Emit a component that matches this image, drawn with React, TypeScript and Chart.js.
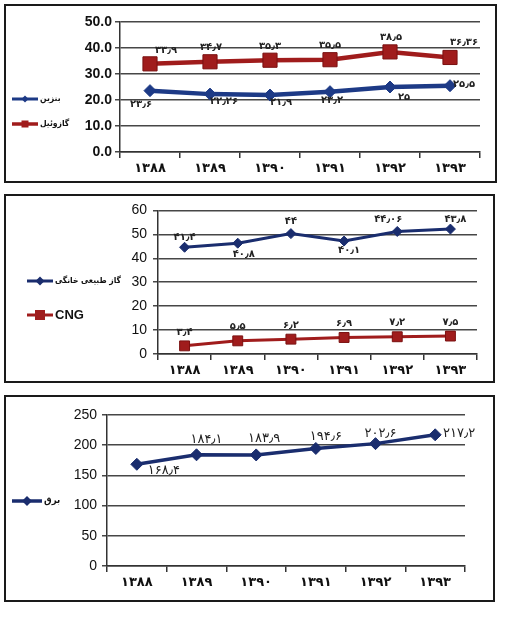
import React, { useEffect, useRef } from "react";
import { Chart, registerables } from "chart.js";

Chart.register(...registerables);

// ---------- data ----------
const years = ["۱۳۸۸", "۱۳۸۹", "۱۳۹۰", "۱۳۹۱", "۱۳۹۲", "۱۳۹۳"];

const gasolineName = "بنزین";
const gasoline = [23.6, 22.26, 21.9, 23.2, 25, 25.5];
const gasoilName = "گازوئیل";
const gasoil = [33.9, 34.7, 35.3, 35.5, 38.5, 36.36];

const homeGasName = "گاز طبیعی خانگی";
const homeGas = [44.6, 46.3, 50.3, 47.2, 51.2, 52.2];
const homeGasLabels = [41.4, 40.8, 44, 40.1, 44.06, 43.8];
const cngName = "CNG";
const cng = [3.4, 5.5, 6.2, 6.9, 7.2, 7.5];

const powerName = "برق";
const power = [168.4, 184.1, 183.9, 194.6, 202.6, 217.2];

const yTicks1 = [0, 10, 20, 30, 40, 50];
const yTicks2 = [0, 10, 20, 30, 40, 50, 60];
const yTicks3 = [0, 50, 100, 150, 200, 250];

// ---------- helpers ----------
const FA_DIGITS = "۰۱۲۳۴۵۶۷۸۹";
const toFa = (n: number) =>
  String(n).replace(/\d/g, (d) => FA_DIGITS[+d]).replace(".", "٫");

const LATIN = "'Liberation Sans', Arial, 'DejaVu Sans', sans-serif";
const FA = "'DejaVu Sans', sans-serif";
const FA_C = "'DejaVu Sans Condensed', 'DejaVu Sans', sans-serif";

const BLUE = "#1d3a86";
const BLUE_DARK = "#1a2d6e";
const RED = "#a01c1c";
const GRID = "#474747";

const pointLabelPlugin = {
  id: "pointLabels",
  afterDatasetsDraw(chart: any) {
    const ctx = chart.ctx;
    chart.data.datasets.forEach((ds: any, di: number) => {
      const meta = chart.getDatasetMeta(di);
      if (!ds.pointLabels) return;
      ctx.save();
      ctx.font = ds.labelFont;
      ctx.fillStyle = "#222";
      ctx.textAlign = "center";
      ctx.textBaseline = "middle";
      meta.data.forEach((pt: any, i: number) => {
        const off = ds.labelOffsets[i];
        ctx.fillText(ds.pointLabels[i], pt.x + off[0], pt.y + off[1]);
      });
      ctx.restore();
    });
  },
};

const sideLegendPlugin = {
  id: "sideLegend",
  afterDraw(chart: any, _args: any, opts: any) {
    if (!opts || !opts.items) return;
    const ctx = chart.ctx;
    opts.items.forEach((it: any) => {
      const ds = chart.data.datasets[it.datasetIndex];
      ctx.save();
      ctx.strokeStyle = ds.borderColor;
      ctx.lineWidth = it.lineWidth;
      ctx.beginPath();
      ctx.moveTo(it.x, it.y);
      ctx.lineTo(it.x + it.len, it.y);
      ctx.stroke();
      const cx = it.x + it.len / 2;
      ctx.fillStyle = ds.pointBackgroundColor;
      ctx.beginPath();
      if (ds.pointStyle === "rect") {
        const s = it.marker;
        ctx.rect(cx - s, it.y - s, 2 * s, 2 * s);
      } else {
        const r = it.marker;
        ctx.moveTo(cx - r, it.y);
        ctx.lineTo(cx, it.y - r);
        ctx.lineTo(cx + r, it.y);
        ctx.lineTo(cx, it.y + r);
        ctx.closePath();
      }
      ctx.fill();
      ctx.font = it.font;
      ctx.fillStyle = "#111";
      ctx.textAlign = "left";
      ctx.textBaseline = "middle";
      ctx.fillText(ds.label, it.x + it.len + 2, it.y);
      ctx.restore();
    });
  },
};

function makeOptions(p: {
  ticks: number[];
  yWidth: number;
  xHeight: number;
  padTop: number;
  padRight: number;
  yFont: any;
  yPad: number;
  fmt: (v: number) => string;
  legend: any;
}) {
  return {
    responsive: false,
    maintainAspectRatio: false,
    animation: false,
    devicePixelRatio: 1,
    layout: { padding: { left: 0, top: p.padTop, right: p.padRight, bottom: 0 } },
    plugins: {
      legend: { display: false },
      tooltip: { enabled: false },
      sideLegend: p.legend,
    },
    scales: {
      x: {
        offset: true,
        grid: { offset: true, drawOnChartArea: false, color: "#333", lineWidth: 1.5, tickLength: 6 },
        border: { color: "#333", width: 1.5 },
        ticks: { color: "#111", padding: 3, font: { family: FA, size: 13, weight: "bold" } },
        afterFit: (s: any) => {
          s.height = p.xHeight;
        },
      },
      y: {
        min: p.ticks[0],
        max: p.ticks[p.ticks.length - 1],
        afterBuildTicks: (s: any) => {
          s.ticks = p.ticks.map((v) => ({ value: v }));
        },
        grid: { color: GRID, lineWidth: 1.5, tickLength: 5 },
        border: { color: "#333", width: 1.5 },
        ticks: {
          color: "#111",
          padding: p.yPad,
          font: p.yFont,
          callback: (v: any) => p.fmt(Number(v)),
        },
        afterFit: (s: any) => {
          s.width = p.yWidth;
        },
      },
    },
  };
}

function config1() {
  return {
    type: "line",
    data: {
      labels: years,
      datasets: [
        {
          label: gasolineName,
          data: gasoline,
          borderColor: BLUE,
          backgroundColor: BLUE,
          pointBackgroundColor: BLUE,
          pointBorderColor: BLUE,
          borderWidth: 4.5,
          pointStyle: "rectRot",
          pointRadius: 6,
          pointBorderWidth: 1,
          pointLabels: gasoline.map(toFa),
          labelFont: `bold 10px ${FA}`,
          labelOffsets: [[-9, 14], [14, 7], [11, 7], [2, 9], [14, 10], [14, -1]],
        },
        {
          label: gasoilName,
          data: gasoil,
          borderColor: RED,
          backgroundColor: RED,
          pointBackgroundColor: RED,
          pointBorderColor: "#7a1010",
          borderWidth: 4.5,
          pointStyle: "rect",
          pointRadius: 10,
          pointBorderWidth: 1,
          pointLabels: gasoil.map(toFa),
          labelFont: `bold 10px ${FA}`,
          labelOffsets: [[16, -13], [1, -14], [0, -14], [0, -14], [1, -14], [14, -15]],
        },
      ],
    },
    options: makeOptions({
      ticks: yTicks1,
      yWidth: 114,
      xHeight: 29,
      padTop: 16,
      padRight: 15,
      yFont: { family: LATIN, size: 14, weight: "bold" },
      yPad: 3,
      fmt: (v) => v.toFixed(1),
      legend: {
        items: [
          { datasetIndex: 0, x: 6, y: 93, len: 26, lineWidth: 3, marker: 3.5, font: `bold 8.5px ${FA_C}` },
          { datasetIndex: 1, x: 6, y: 118, len: 26, lineWidth: 3.5, marker: 3.5, font: `bold 8.5px ${FA_C}` },
        ],
      },
    }),
    plugins: [pointLabelPlugin, sideLegendPlugin],
  };
}

function config2() {
  return {
    type: "line",
    data: {
      labels: years,
      datasets: [
        {
          label: homeGasName,
          data: homeGas,
          borderColor: BLUE_DARK,
          backgroundColor: BLUE_DARK,
          pointBackgroundColor: BLUE_DARK,
          pointBorderColor: BLUE_DARK,
          borderWidth: 3,
          pointStyle: "rectRot",
          pointRadius: 5,
          pointBorderWidth: 1,
          pointLabels: homeGasLabels.map(toFa),
          labelFont: `bold 10px ${FA}`,
          labelOffsets: [[0, -10], [6, 11], [0, -12], [5, 9], [-9, -12], [5, -10]],
        },
        {
          label: cngName,
          data: cng,
          borderColor: RED,
          backgroundColor: RED,
          pointBackgroundColor: RED,
          pointBorderColor: "#7a1010",
          borderWidth: 3,
          pointStyle: "rect",
          pointRadius: 7,
          pointBorderWidth: 1,
          pointLabels: cng.map(toFa),
          labelFont: `bold 10px ${FA}`,
          labelOffsets: [[0, -13], [0, -14], [0, -14], [0, -14], [0, -14], [0, -14]],
        },
      ],
    },
    options: makeOptions({
      ticks: yTicks2,
      yWidth: 152,
      xHeight: 27,
      padTop: 6,
      padRight: 16,
      yFont: { family: LATIN, size: 14 },
      yPad: 6,
      fmt: (v) => String(v),
      legend: {
        items: [
          { datasetIndex: 0, x: 21, y: 85, len: 26, lineWidth: 3, marker: 4.5, font: `bold 8.5px ${FA_C}` },
          { datasetIndex: 1, x: 21, y: 119, len: 26, lineWidth: 3, marker: 5, font: `bold 13px ${LATIN}` },
        ],
      },
    }),
    plugins: [pointLabelPlugin, sideLegendPlugin],
  };
}

function config3() {
  return {
    type: "line",
    data: {
      labels: years,
      datasets: [
        {
          label: powerName,
          data: power,
          borderColor: BLUE_DARK,
          backgroundColor: BLUE_DARK,
          pointBackgroundColor: BLUE_DARK,
          pointBorderColor: BLUE_DARK,
          borderWidth: 3.5,
          pointStyle: "rectRot",
          pointRadius: 6,
          pointBorderWidth: 1,
          pointLabels: power.map(toFa),
          labelFont: `13px ${FA}`,
          labelOffsets: [[27, 6], [10, -15], [8, -16], [10, -12], [5, -10], [24, -1]],
        },
      ],
    },
    options: makeOptions({
      ticks: yTicks3,
      yWidth: 101,
      xHeight: 34,
      padTop: 18,
      padRight: 28,
      yFont: { family: LATIN, size: 14 },
      yPad: 5,
      fmt: (v) => String(v),
      legend: {
        items: [
          { datasetIndex: 0, x: 6, y: 104, len: 30, lineWidth: 3.5, marker: 5, font: `bold 9.5px ${FA_C}` },
        ],
      },
    }),
    plugins: [pointLabelPlugin, sideLegendPlugin],
  };
}

function ChartBox(props: { left: number; top: number; w: number; h: number; make: () => any }) {
  const ref = useRef<HTMLCanvasElement>(null);
  useEffect(() => {
    const chart = new Chart(ref.current as HTMLCanvasElement, props.make());
    return () => chart.destroy();
  }, []);
  const cw = props.w - 4;
  const ch = props.h - 4;
  return (
    <div
      style={{
        position: "absolute",
        left: props.left,
        top: props.top,
        width: props.w,
        height: props.h,
        border: "2px solid #1a1a1a",
        boxSizing: "border-box",
        background: "#fff",
      }}
    >
      <canvas ref={ref} width={cw} height={ch} style={{ display: "block", width: cw, height: ch }} />
    </div>
  );
}

export default function App() {
  return (
    <div style={{ position: "fixed", left: 0, top: 0, width: 507, height: 618, background: "#fff" }}>
      <ChartBox left={4} top={4} w={493} h={179} make={config1} />
      <ChartBox left={4} top={194} w={491} h={189} make={config2} />
      <ChartBox left={4} top={395} w={491} h={207} make={config3} />
    </div>
  );
}
